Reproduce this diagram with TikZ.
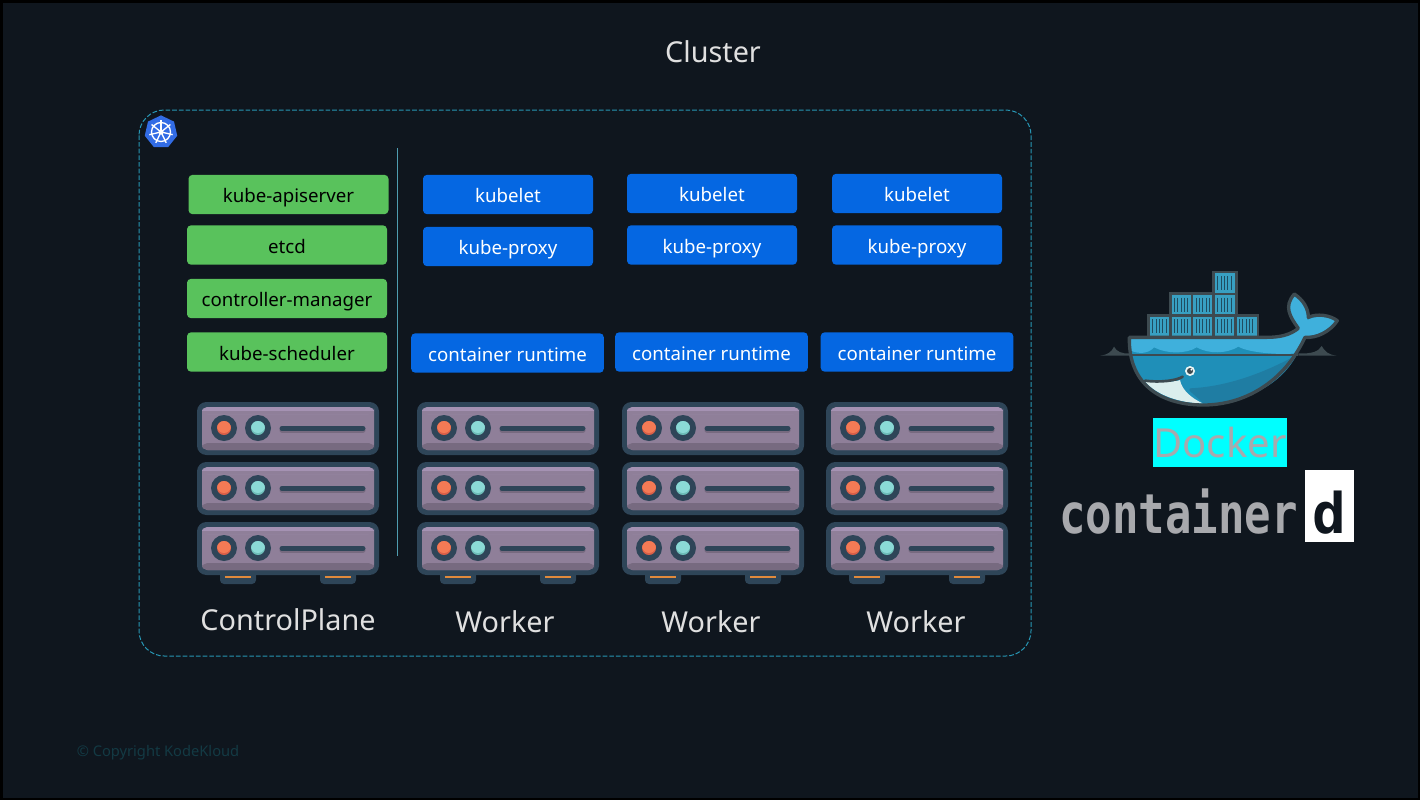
\documentclass[tikz,border=0pt]{standalone}
\usepackage{fontspec}
\setmainfont{Noto Sans}
\newfontfamily\logofont{DejaVu Sans Mono}
\usetikzlibrary{shapes.geometric}
\definecolor{bgcol}{HTML}{0F161E}
\definecolor{greencol}{HTML}{59C25C}
\definecolor{bluecol}{HTML}{0567E2}
\definecolor{dashcol}{HTML}{2796B4}
\definecolor{linecol}{HTML}{4F9DB0}
\definecolor{badgecol}{HTML}{326CE5}
\definecolor{cyanbox}{HTML}{00FFFF}
\definecolor{copycol}{HTML}{133A44}
\definecolor{rimcol}{HTML}{2E4558}
\definecolor{rackcol}{HTML}{8F7F99}
\definecolor{racktop}{HTML}{A592B3}
\definecolor{racklow}{HTML}{776A80}
\definecolor{redcol}{HTML}{D95F48}
\definecolor{redtop}{HTML}{F47A55}
\definecolor{tealcol}{HTML}{6DBDB8}
\definecolor{tealtop}{HTML}{8BDAD6}
\definecolor{footcol}{HTML}{E08A3C}
\definecolor{whaleline}{HTML}{3D4A50}
\definecolor{whaletop}{HTML}{3FB0DC}
\definecolor{whalelow}{HTML}{1F8FB8}
\definecolor{whaledark}{HTML}{1F7DA3}
\definecolor{boxcol}{HTML}{38A0C2}
\definecolor{logocol}{HTML}{A8A9AD}
\tikzset{
  greenbox/.style={draw=none,fill=greencol,rounded corners=3pt,minimum width=150pt,minimum height=29.5pt,inner sep=0pt,text=black,text height=15pt,text depth=3pt,font=\fontsize{14}{17}\selectfont},
  kubebox/.style={draw=none,fill=bluecol,rounded corners=3pt,minimum width=127.5pt,minimum height=29.5pt,inner sep=0pt,text=white,text height=15pt,text depth=3pt,font=\fontsize{14}{17}\selectfont},
  runtimebox/.style={kubebox,minimum width=144.5pt},
  caption/.style={text=black!12,inner sep=0pt,font=\fontsize{21.6}{25}\selectfont},
  rackunit/.pic={
    \fill[rimcol,rounded corners=7pt] (0,0) rectangle (182,53);
    \fill[rackcol,rounded corners=4pt] (5,5) rectangle (177,48);
    \fill[racktop,rounded corners=4pt] (5,5) rectangle (177,12);
    \fill[rackcol] (5,9) rectangle (177,12);
    \fill[racklow,rounded corners=4pt] (5,41) rectangle (177,48);
    \fill[rimcol] (27,26) circle (13);
    \fill[rimcol] (61,26) circle (13);
    \fill[redcol] (27,26) circle (7);
    \fill[tealcol] (61,26) circle (7);
    \begin{scope}
      \clip (27,26) circle (7);
      \fill[redtop] (27,24) circle (7);
    \end{scope}
    \begin{scope}
      \clip (61,26) circle (7);
      \fill[tealtop] (61,24) circle (7);
    \end{scope}
    \draw[racklow,line width=3.75pt,line cap=round] (85,28) -- (166,28);
    \draw[rimcol,line width=3.75pt,line cap=round] (85,26.5) -- (166,26.5);
  },
  rackstack/.pic={
    \fill[rimcol,rounded corners=3pt] (23,165) rectangle (59,182);
    \fill[rimcol,rounded corners=3pt] (123,165) rectangle (159,182);
    \draw[footcol,line width=1.5pt] (28,175) -- (54,175);
    \draw[footcol,line width=1.5pt] (128,175) -- (154,175);
    \pic at (0,0) {rackunit};
    \pic at (0,60) {rackunit};
    \pic at (0,120) {rackunit};
  }
}
\begin{document}
\begin{tikzpicture}[x=0.75pt,y=-0.75pt]
\useasboundingbox (0,0) rectangle (1420,800);
\fill[black] (0,0) rectangle (1420,800);
\fill[bgcol] (3,3) rectangle (1418,798);

% title and frame
\node[caption] (title) at (713,52) {Cluster};
\draw[dashcol,dash pattern=on 3.5pt off 1.5pt,line width=0.75pt,rounded corners=19pt] (139,110) rectangle (1031,656);
\coordinate (divtop) at (397,148);
\coordinate (divbot) at (397,556);
\draw[linecol,line width=0.75pt] (divtop) -- (divbot);

% kubernetes badge
\node[regular polygon,regular polygon sides=7,fill=badgecol,draw=none,minimum size=25pt,inner sep=0pt] (badge) at (161,132) {};
\draw[white,line width=1pt] (161,132) circle (9.5);
\foreach \a in {0,51.4,...,360}
  \draw[white,line width=1pt] (161,132) -- ++(\a+90:-12);
\fill[white] (161,132) circle (2.5);

% control plane
\node[greenbox] (api) at (288.5,194.5) {kube-apiserver};
\node[greenbox] (etcd) at (287,245) {etcd};
\node[greenbox] (ctrl) at (287,298.5) {controller-manager};
\node[greenbox] (sched) at (287,352) {kube-scheduler};

% workers
\node[kubebox] (letA) at (508,194.5) {kubelet};
\node[kubebox] (proxyA) at (508,246.5) {kube-proxy};
\node[runtimebox] (runA) at (507.5,353) {container runtime};
\node[kubebox] (letB) at (712,193.5) {kubelet};
\node[kubebox] (proxyB) at (712,245) {kube-proxy};
\node[runtimebox] (runB) at (711.5,352) {container runtime};
\node[kubebox] (letC) at (917,193.5) {kubelet};
\node[kubebox] (proxyC) at (917,245) {kube-proxy};
\node[runtimebox] (runC) at (917,352) {container runtime};

% servers
\foreach \x in {197,417,622,826}
  \pic at (\x,402) {rackstack};

% labels
\node[caption] (cp) at (288,619.5) {ControlPlane};
\node[caption] (wA) at (505,621.5) {Worker};
\node[caption] (wB) at (711,621.5) {Worker};
\node[caption] (wC) at (916,621.5) {Worker};
\node[text=copycol,inner sep=0pt,font=\fontsize{11}{13}\selectfont] (copy) at (158,753) {© Copyright KodeKloud};

% docker whale
\begin{scope}[shift={(1050,260)},x=0.25pt,y=-0.25pt]
\fill[whaleline] (150,287) .. controls (175,284) and (185,275) .. (192,260) .. controls (200,275) and (215,282) .. (240,280) -- (240,287) -- cycle;
\fill[whaleline] (860,287) .. controls (835,284) and (825,275) .. (815,258) .. controls (805,275) and (785,282) .. (745,280) -- (745,287) -- cycle;
\foreach \x/\y in {300/170,365/170,430/170,495/170,560/170,365/105,430/105,495/105,495/40} {
  \fill[whaleline] (\x-8,\y-8) rectangle (\x+68,\y+66);
  \fill[boxcol] (\x,\y) rectangle (\x+60,\y+58);
  \foreach \i in {8,18,...,52}
    \draw[bgcol!60!boxcol,line width=0.5pt] (\x+\i,\y+8) -- (\x+\i,\y+50);
}
\path[fill=whalelow] (238,232) -- (650,232) .. controls (690,232) and (720,225) .. (745,205) .. controls (720,170) and (700,140) .. (733,102) .. controls (760,120) and (775,145) .. (775,172) .. controls (800,160) and (840,165) .. (862,182) .. controls (840,215) and (800,235) .. (765,232) .. controls (700,370) and (580,435) .. (460,435) .. controls (340,435) and (235,380) .. (238,232) -- cycle;
\fill[whaledark] (740,285) .. controls (690,380) and (580,430) .. (460,430) .. controls (430,400) and (410,390) .. (420,385) .. controls (530,380) and (640,340) .. (740,285) -- cycle;
\fill[whaletop] (243,236) -- (650,236) .. controls (690,236) and (720,228) .. (745,208) .. controls (722,170) and (705,145) .. (733,110) .. controls (757,125) and (770,150) .. (772,180) .. controls (800,165) and (835,170) .. (855,183) .. controls (835,210) and (800,228) .. (765,228) -- (735,280) .. controls (700,285) and (600,280) .. (565,260) .. controls (530,282) and (475,282) .. (440,262) .. controls (410,282) and (350,282) .. (312,262) .. controls (295,282) and (265,282) .. (243,272) -- cycle;
\fill[white!75!tealcol] (285,365) .. controls (330,368) and (380,365) .. (390,360) .. controls (395,390) and (425,415) .. (458,430) .. controls (390,430) and (320,405) .. (285,365) -- cycle;
\draw[whaleline,line width=2.5pt,line join=round] (238,232) -- (650,232) .. controls (690,232) and (720,225) .. (745,205) .. controls (720,170) and (700,140) .. (733,102) .. controls (760,120) and (775,145) .. (775,172) .. controls (800,160) and (840,165) .. (862,182) .. controls (840,215) and (800,235) .. (765,232) .. controls (700,370) and (580,435) .. (460,435) .. controls (340,435) and (235,380) .. (238,232) -- cycle;
\draw[whaleline,line width=1.5pt] (240,285) -- (745,285);
\draw[whaleline,line width=2pt,line cap=round] (285,362) .. controls (330,368) and (380,362) .. (398,350);
\fill[white!85!tealcol] (420,333) circle (15);
\fill[whaleline] (420,333) circle (9);
\fill[white] (424,329) circle (3);
\end{scope}

% docker and containerd
\node[fill=cyanbox,text=logocol,minimum width=100.5pt,minimum height=36.75pt,inner sep=0pt,font=\fontsize{30}{34}\selectfont] (docker) at (1220,442.5) {Docker};
\node[text=logocol,inner sep=0pt,anchor=base east,font=\logofont\bfseries\fontsize{33}{36}\selectfont] (ctr) at (1298,533) {\scalebox{1}[1.25]{container}};
\node[fill=white,minimum width=36.75pt,minimum height=54pt,inner sep=0pt] (ctrbox) at (1329.5,506) {};
\node[text=bgcol,inner sep=0pt,anchor=base,font=\logofont\bfseries\fontsize{42}{46}\selectfont] (ctrd) at (1329.5,533) {d};
\end{tikzpicture}
\end{document}
